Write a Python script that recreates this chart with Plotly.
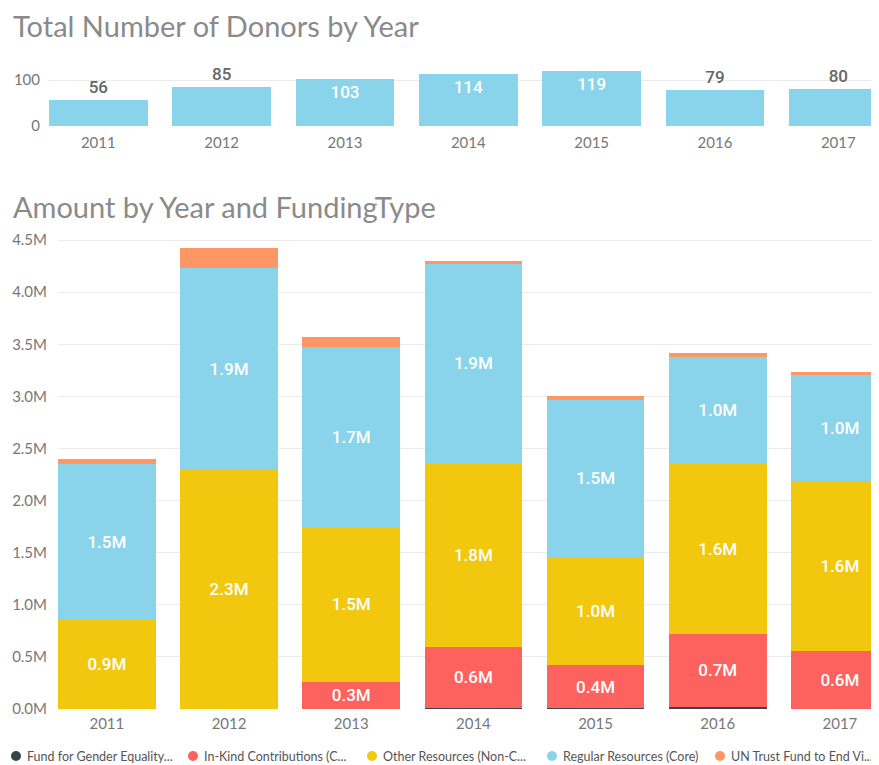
import plotly.graph_objects as go

years = ["2011", "2012", "2013", "2014", "2015", "2016", "2017"]
donors = [56, 85, 103, 114, 119, 79, 80]
donor_label_pos = ["outside", "outside", "inside", "inside", "inside", "outside", "outside"]

# Amounts in millions (USD)
fund_gender = [0.0, 0.0, 0.0, 0.01, 0.01, 0.02, 0.0]
in_kind = [0.0, 0.0, 0.26, 0.585, 0.41, 0.70, 0.557]
other_res = [0.86, 2.30, 1.49, 1.77, 1.04, 1.64, 1.63]
regular_res = [1.49, 1.93, 1.72, 1.91, 1.51, 1.02, 1.02]
un_trust = [0.05, 0.19, 0.10, 0.02, 0.03, 0.04, 0.025]

series_names = ["Fund for Gender Equality...", "In-Kind Contributions (C...",
                "Other Resources (Non-C...", "Regular Resources (Core)",
                "UN Trust Fund to End Vi..."]
series_values = [fund_gender, in_kind, other_res, regular_res, un_trust]
series_colors = ["#374649", "#FD625E", "#F2C80F", "#8AD4EB", "#FE9666"]
series_labelled = [False, True, True, True, False]

y_ticks = [0, 0.5, 1.0, 1.5, 2.0, 2.5, 3.0, 3.5, 4.0, 4.5]

# The page body has an 8px margin, so the figure is 8px smaller than the window
OFF = 8
W, H = 879 - OFF, 765 - OFF
def px_x(x):
    return (x - OFF) / W
def px_y(y):
    return (H - (y - OFF)) / H

LABEL_FONT = "Roboto"
AXIS_FONT = "Lato"
GRID = "#ebebeb"
TICK_COLOR = "#777777"

fig = go.Figure()

# Top chart: donors
fig.add_trace(go.Bar(
    x=years, y=donors, xaxis="x", yaxis="y",
    marker=dict(color="#8AD4EB", line=dict(width=0)),
    text=[str(v) for v in donors],
    textposition=donor_label_pos,
    insidetextanchor="end",
    insidetextfont=dict(color="white", size=17, family=LABEL_FONT, weight=500),
    outsidetextfont=dict(color="#666666", size=17, family=LABEL_FONT, weight=500),
    cliponaxis=False,
    showlegend=False,
    width=0.8,
))

# Bottom chart: stacked amounts
for name, vals, col, lab in zip(series_names, series_values, series_colors, series_labelled):
    txt = [(f"{v:.1f}M" if (lab and v >= 0.2) else "") for v in vals]
    fig.add_trace(go.Bar(
        x=years, y=vals, name=name, xaxis="x2", yaxis="y2",
        marker=dict(color=col, line=dict(width=0)),
        text=txt, textposition="inside", insidetextanchor="middle",
        textangle=0,
        insidetextfont=dict(color="white", size=17, family=LABEL_FONT, weight=500),
        showlegend=False, width=0.8,
    ))

axis_common = dict(showline=False, zeroline=False, ticks="", automargin=False,
                   tickfont=dict(family=AXIS_FONT, size=15, color=TICK_COLOR))

fig.update_layout(
    width=W, height=H,
    margin=dict(l=0, r=0, t=0, b=0, autoexpand=False),
    paper_bgcolor="white", plot_bgcolor="white",
    barmode="stack",
    uniformtext=dict(minsize=8, mode="show"),
    xaxis=dict(domain=[px_x(49), 1], range=[-0.4, 6.33], type="category",
               showgrid=False, anchor="y", ticklabelstandoff=6, **axis_common),
    yaxis=dict(domain=[px_y(126), px_y(60)], range=[0, 143.5], anchor="x",
               tickvals=[0, 100], showgrid=True, gridcolor=GRID, gridwidth=1,
               ticklabelstandoff=8, **axis_common),
    xaxis2=dict(domain=[px_x(58), 1], range=[-0.4, 6.32], type="category",
                showgrid=False, anchor="y2", ticklabelstandoff=4, **axis_common),
    yaxis2=dict(domain=[px_y(709), px_y(229.7)], range=[0, 4.6], anchor="x2",
                tickvals=y_ticks, ticktext=[f"{v:.1f}M" for v in y_ticks],
                showgrid=True, gridcolor=GRID, gridwidth=1,
                ticklabelstandoff=10, **axis_common),
    font=dict(family=AXIS_FONT),
)

# Titles
fig.add_annotation(text="Total Number of Donors by Year", xref="paper", yref="paper",
                   x=px_x(11), y=px_y(25), xanchor="left", yanchor="middle",
                   showarrow=False, font=dict(family=AXIS_FONT, size=29, color="#8a8a8a"))
fig.add_annotation(text="Amount by Year and FundingType", xref="paper", yref="paper",
                   x=px_x(11), y=px_y(206), xanchor="left", yanchor="middle",
                   showarrow=False, font=dict(family=AXIS_FONT, size=29, color="#8a8a8a"))

# Legend (circle markers + labels)
legend_circle_x = [16, 193, 372, 552, 720]
for cx, name, col in zip(legend_circle_x, series_names, series_colors):
    fig.add_shape(type="circle", xref="paper", yref="paper",
                  x0=px_x(cx - 5), x1=px_x(cx + 5), y0=px_y(761), y1=px_y(751),
                  fillcolor=col, line=dict(width=0))
    fig.add_annotation(text=name, xref="paper", yref="paper",
                       x=px_x(cx + 9), y=px_y(756), xanchor="left", yanchor="middle",
                       showarrow=False, font=dict(family=AXIS_FONT, size=12.5, color="#555555"))

fig.write_html("out.html")
